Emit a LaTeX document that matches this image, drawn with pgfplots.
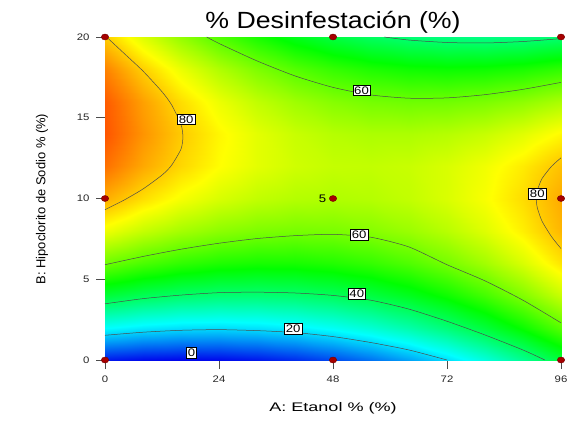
\documentclass[border=0pt]{standalone}
\usepackage{fontspec}
\setmainfont{Liberation Sans}
\newfontfamily\tickfont[FakeStretch=1.2]{Liberation Sans}
\newfontfamily\titlefont[FakeStretch=1.14]{Liberation Sans}
\newfontfamily\xlabfont[FakeStretch=1.45]{Liberation Sans}
\usepackage{pgfplots}
\pgfplotsset{compat=1.18}
\tikzset{
  lbl/.style={fill=white, draw=black, line width=0.4bp, inner sep=1.4bp, font=\tickfont\fontsize{11}{12}\selectfont},
  cl/.style={black!70, line width=0.5bp, smooth, tension=0.4},
}
\begin{document}
\begin{tikzpicture}[x=1bp,y=1bp]
\useasboundingbox (0,0) rectangle (568,429);
\begin{axis}[
  at={(105bp,69bp)}, anchor=south west,
  width=456bp, height=323bp, scale only axis,
  xmin=0, xmax=96, ymin=0, ymax=20,
  xtick={0,24,48,72,96}, ytick={0,5,10,15,20},
  tick align=outside, major tick length=9bp, tick pos=left,
  tick style={black!70, line width=0.6bp},
  ticklabel style={font=\tickfont\fontsize{9.5}{11}\selectfont, text=black!85},
  xticklabel style={yshift=-3bp},
  yticklabel style={xshift=-3bp},
  /pgf/number format/assume math mode=true,
  axis line style={black, line width=0.6bp},
  colormap={de}{rgb255=(0,0,235) rgb255=(0,255,255) rgb255=(0,255,0) rgb255=(255,255,0) rgb255=(255,0,0)},
  point meta min=0, point meta max=100,
  clip=false,
]
\addplot[surf, shader=interp, mesh/cols=13, point meta=\thisrow{Z}] table[x=A, y=B] {
A B Z
0 0 2.4
8 0 1.0
16 0 0.5
24 0 0.9
32 0 2.2
40 0 4.3
48 0 7.3
56 0 11.2
64 0 16.0
72 0 21.7
80 0 28.3
88 0 35.7
96 0 44.0

0 2 25.2
8 2 23.1
16 2 21.9
24 2 21.6
32 2 22.2
40 2 23.6
48 2 26.0
56 2 29.2
64 2 33.3
72 2 38.3
80 2 44.2
88 2 50.9
96 2 58.5

0 4 44.6
8 4 41.9
16 4 40.0
24 4 39.0
32 4 38.9
40 4 39.6
48 4 41.3
56 4 43.8
64 4 47.2
72 4 51.5
80 4 56.7
88 4 62.8
96 4 69.7

0 6 60.7
8 6 57.3
16 6 54.7
24 6 53.0
32 6 52.2
40 6 52.3
48 6 53.3
56 6 55.1
64 6 57.8
72 6 61.5
80 6 65.9
88 6 71.3
96 6 77.6

0 8 73.5
8 8 69.3
16 8 66.1
24 8 63.7
32 8 62.2
40 8 61.6
48 8 61.9
56 8 63.1
64 8 65.1
72 8 68.0
80 8 71.8
88 8 76.5
96 8 82.1

0 10 82.9
8 10 78.1
16 10 74.1
24 10 71.1
32 10 68.9
40 10 67.6
48 10 67.2
56 10 67.7
64 10 69.0
72 10 71.3
80 10 74.4
88 10 78.4
96 10 83.3

0 12 89.0
8 12 83.5
16 12 78.9
24 12 75.1
32 12 72.3
40 12 70.3
48 12 69.2
56 12 69.0
64 12 69.6
72 12 71.2
80 12 73.6
88 12 76.9
96 12 81.1

0 14 91.7
8 14 85.5
16 14 80.2
24 14 75.8
32 14 72.3
40 14 69.6
48 14 67.8
56 14 66.9
64 14 66.9
72 14 67.8
80 14 69.5
88 14 72.1
96 14 75.6

0 16 91.1
8 16 84.3
16 16 78.3
24 16 73.2
32 16 68.9
40 16 65.6
48 16 63.1
56 16 61.5
64 16 60.8
72 16 61.0
80 16 62.1
88 16 64.0
96 16 66.8

0 18 87.2
8 18 79.7
16 18 73.0
24 18 67.2
32 18 62.3
40 18 58.2
48 18 55.1
56 18 52.8
64 18 51.4
72 18 50.9
80 18 51.3
88 18 52.5
96 18 54.6

0 20 80.0
8 20 71.7
16 20 64.4
24 20 57.9
32 20 52.3
40 20 47.5
48 20 43.7
56 20 40.7
64 20 38.7
72 20 37.5
80 20 37.1
88 20 37.7
96 20 39.2
};
% contour 20
\addplot[cl] coordinates {(0,1.53) (8,1.72) (16,1.84) (24,1.88) (32,1.82) (40,1.7) (48,1.45) (56,1.08) (64,0.62) (72,0)};
% contour 40
\addplot[cl] coordinates {(0,3.48) (8,3.8) (16,4.02) (24,4.17) (32,4.2) (40,4.15) (48,4.0) (56,3.7) (64,3.15) (72,2.4) (80,1.55) (88,0.62) (92.6,0)};
\addplot[cl] coordinates {(58.8,20) (64,19.81) (72,19.66) (80,19.63) (88,19.72) (96,19.9)};
% contour 60
\addplot[cl] coordinates {(0,5.9) (8,6.41) (16,6.86) (24,7.23) (32,7.52) (40,7.7) (48,7.78) (56,7.6) (64,7.0) (72,5.9) (80,4.9) (88,3.7) (96,2.3)};
\addplot[cl] coordinates {(21.4,20) (24,19.6) (32,18.52) (40,17.59) (48,16.88) (56,16.41) (64,16.21) (72,16.23) (80,16.43) (88,16.76) (96,17.19)};
% contour 80
\addplot[cl] coordinates {(0,9.31) (4,9.9) (8,10.59) (12,11.45) (14,12.05) (16,13.06) (16.4,13.81) (16,14.59) (14,15.81) (12,16.61) (8,17.89) (4,18.99) (0.5,19.95)};
\addplot[cl] coordinates {(96,6.9) (94,7.64) (92,8.6) (91,9.44) (90.8,9.98) (91,10.49) (92,11.23) (94,11.99) (96,12.52)};
% labels
\node[lbl] at (axis cs:17.1,14.9) {80};
\node[lbl] at (axis cs:54,16.7) {60};
\node[lbl] at (axis cs:91,10.3) {80};
\node[lbl] at (axis cs:53.5,7.75) {60};
\node[lbl] at (axis cs:53,4.1) {40};
\node[lbl] at (axis cs:39.6,1.95) {20};
\node[lbl] at (axis cs:18.2,0.45) {0};
\node[font=\tickfont\fontsize{11}{12}\selectfont, anchor=east, inner sep=0pt] at (axis cs:46.6,10) {5};
% design points
\addplot[only marks, mark=*, mark size=3bp, mark options={fill=red!65!black, draw=red!45!black, line width=0.4bp, xscale=1.25}]
  coordinates {(0,0) (48,0) (96,0) (0,10) (48,10) (96,10) (0,20) (48,20) (96,20)};
\end{axis}
\node[font=\titlefont\fontsize{23.5}{26}\selectfont] at (333,407) {\% Desinfestación (\%)};
\node[font=\xlabfont\fontsize{12.5}{15}\selectfont] at (333,21) {A: Etanol \% (\%)};
\node[font=\fontsize{13}{15}\selectfont, rotate=90] at (42,230) {B: Hipoclorito de Sodio \% (\%)};
\end{tikzpicture}
\end{document}
